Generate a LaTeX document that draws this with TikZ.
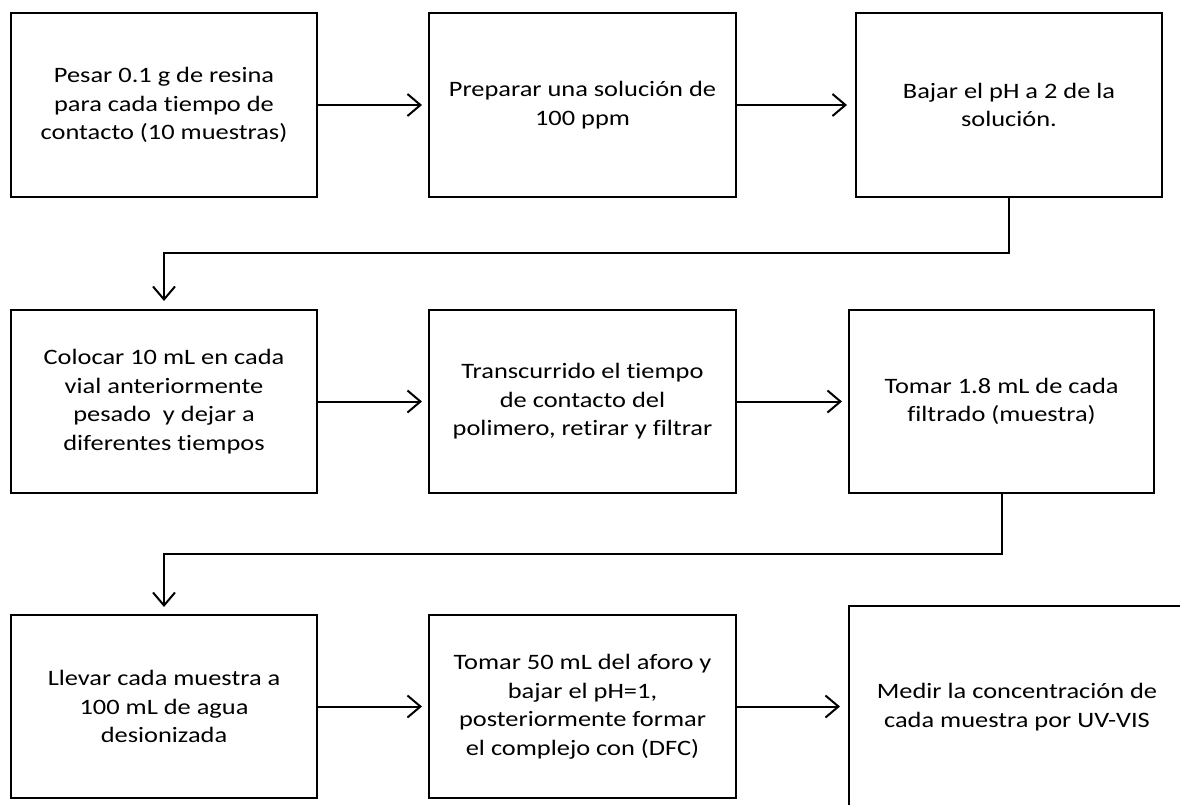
\documentclass[tikz,border=0pt]{standalone}
\usepackage{fontspec}
\setmainfont{Carlito}[FakeStretch=1.2,Ligatures={NoCommon}]
\usetikzlibrary{arrows.meta}
\begin{document}
\begin{tikzpicture}[x=1pt,y=-1pt,
  box/.style={draw=black,line width=2pt,rectangle,minimum width=306pt,minimum height=184pt,
    align=center,inner sep=0pt,font=\fontsize{22}{28.5}\selectfont},
  arr/.style={line width=2pt,-{Straight Barb[length=13pt,width=22pt,line width=2pt]},shorten >=6pt},
  link/.style={line width=2pt}]
\useasboundingbox (0,0) rectangle (1180,804);
\clip (0,0) rectangle (1180,804);
\fill[white] (0,0) rectangle (1180,804);
\node[box] (b1) at (164,105) {Pesar 0.1 g de resina\\para cada tiempo de\\contacto (10 muestras)};
\node[box,minimum width=307pt] (b2) at (582.5,105) {Preparar una solución de\\100 ppm};
\node[box] (b3) at (1009,105) {Bajar el pH a 2 de la\\solución.};
\node[box,minimum height=183pt] (b4) at (164,401.5) {Colocar 10 mL en cada\\vial anteriormente\\pesado \ y dejar a\\diferentes tiempos};
\node[box,minimum width=307pt,minimum height=183pt] (b5) at (582.5,401.5) {Transcurrido el tiempo\\de contacto del\\polimero, retirar y filtrar};
\node[box,minimum width=305pt,minimum height=183pt] (b6) at (1001.5,401.5) {Tomar 1.8 mL de cada\\filtrado (muestra)};
\node[box,minimum height=183pt] (b7) at (164,706.5) {Llevar cada muestra a\\100 mL de agua\\desionizada};
\node[box,minimum width=307pt,minimum height=183pt] (b8) at (582.5,706.5) {Tomar 50 mL del aforo y\\bajar el pH=1,\\posteriormente formar\\el complejo con (DFC)};
\node[box,minimum width=336pt,minimum height=202pt] (b9) at (1017,707) {Medir la concentración de\\cada muestra por UV-VIS};
\coordinate (c1) at (0,253);
\coordinate (c2) at (0,554);
\draw[arr] (b1) -- (b2);
\draw[arr,shorten >=8pt] (b2) -- (b3);
\draw[arr] (b4) -- (b5);
\draw[arr] (b5) -- (b6);
\draw[arr] (b7) -- (b8);
\draw[arr,shorten >=8pt] (b8.east) -- (b9.west |- b8.east);
\draw[arr,shorten >=8pt] (b3.south) |- (b4.north |- c1) -- (b4.north);
\draw[arr,shorten >=7pt] (b6.south) |- (b7.north |- c2) -- (b7.north);
\end{tikzpicture}
\end{document}
